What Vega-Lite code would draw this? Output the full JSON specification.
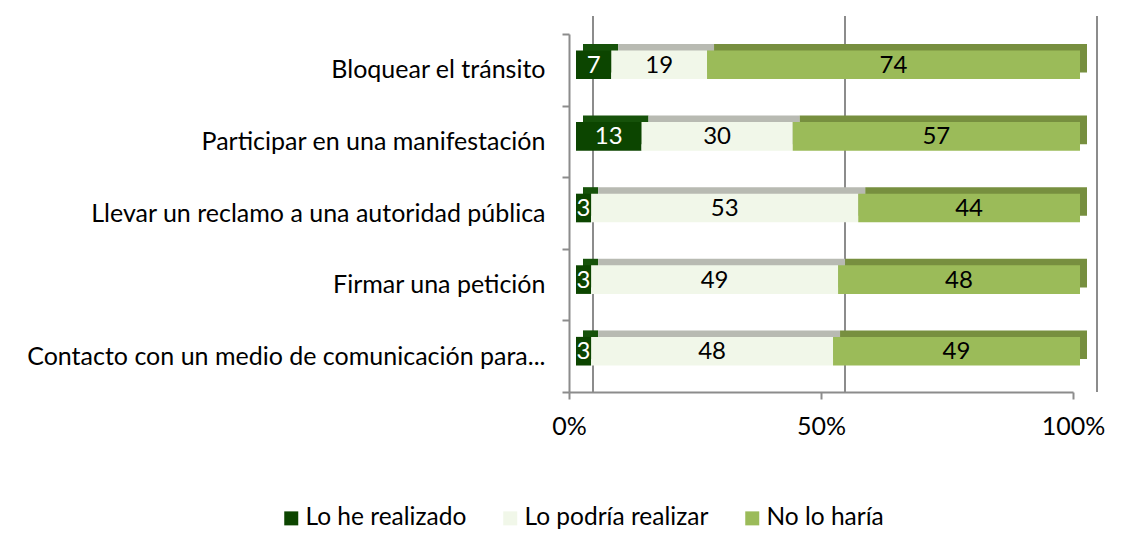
{
  "$schema": "https://vega.github.io/schema/vega-lite/v6.json",
  "width": 504,
  "height": 358,
  "autosize": {"type": "none"},
  "padding": {"left": 569, "top": 34, "right": 67, "bottom": 160},
  "background": "white",
  "config": {
    "view": {"stroke": null},
    "font": "Lato",
    "axisX": {"domainColor": "#8c8c8c", "domainWidth": 2, "tickColor": "#8c8c8c", "tickWidth": 2, "tickSize": 7, "labelFontSize": 25, "labelColor": "#000000", "labelPadding": 15, "labelFlush": false, "grid": false, "labelFont": "Lato"},
    "axisY": {"domainColor": "#8c8c8c", "domainWidth": 2, "tickColor": "#8c8c8c", "tickWidth": 2, "tickSize": 7, "labelFontSize": 25, "labelColor": "#000000", "labelPadding": 17, "grid": false, "tickBand": "extent", "labelLimit": 700, "labelFont": "Lato"}
  },
  "resolve": {"scale": {"color": "independent"}},
  "data": {
    "values": [
      {"item": "Bloquear el tránsito", "resp": "Lo he realizado", "v": 7},
      {"item": "Bloquear el tránsito", "resp": "Lo podría realizar", "v": 19},
      {"item": "Bloquear el tránsito", "resp": "No lo haría", "v": 74},
      {"item": "Participar en una manifestación", "resp": "Lo he realizado", "v": 13},
      {"item": "Participar en una manifestación", "resp": "Lo podría realizar", "v": 30},
      {"item": "Participar en una manifestación", "resp": "No lo haría", "v": 57},
      {"item": "Llevar un reclamo a una autoridad pública", "resp": "Lo he realizado", "v": 3},
      {"item": "Llevar un reclamo a una autoridad pública", "resp": "Lo podría realizar", "v": 53},
      {"item": "Llevar un reclamo a una autoridad pública", "resp": "No lo haría", "v": 44},
      {"item": "Firmar una petición", "resp": "Lo he realizado", "v": 3},
      {"item": "Firmar una petición", "resp": "Lo podría realizar", "v": 49},
      {"item": "Firmar una petición", "resp": "No lo haría", "v": 48},
      {"item": "Contacto con un medio de comunicación para...", "resp": "Lo he realizado", "v": 3},
      {"item": "Contacto con un medio de comunicación para...", "resp": "Lo podría realizar", "v": 48},
      {"item": "Contacto con un medio de comunicación para...", "resp": "No lo haría", "v": 49}
    ]
  },
  "layer": [
    {
      "data": {"values": [{"p": 0}, {"p": 50}, {"p": 100}]},
      "mark": {"type": "rule", "color": "#8c8c8c", "strokeWidth": 2, "xOffset": 24, "x2Offset": 24, "yOffset": -18, "y2Offset": -18},
      "encoding": {
        "x": {"field": "p", "type": "quantitative", "scale": {"domain": [0, 100], "nice": false}, "axis": {"values": [0, 50, 100], "labelExpr": "datum.value + '%'", "title": null}}
      }
    },
    {
      "transform": [{"stack": "v", "groupby": ["item"], "sort": [{"field": "resp", "order": "ascending"}], "as": ["x0", "x1"]}],
      "mark": {"type": "bar", "height": {"band": 0.4}, "xOffset": 14, "x2Offset": 14, "yOffset": -11.5, "y2Offset": -11.5},
      "encoding": {
        "y": {"field": "item", "type": "nominal", "sort": ["Bloquear el tránsito", "Participar en una manifestación", "Llevar un reclamo a una autoridad pública", "Firmar una petición", "Contacto con un medio de comunicación para..."], "scale": {"paddingInner": 0, "paddingOuter": 0}, "axis": {"title": null}},
        "x": {"field": "x0", "type": "quantitative", "axis": {"values": [0, 50, 100], "labelExpr": "datum.value + '%'", "title": null}},
        "x2": {"field": "x1"},
        "color": {"field": "resp", "type": "nominal", "scale": {"domain": ["Lo he realizado", "Lo podría realizar", "No lo haría"], "range": ["#16520a", "#b8bab2", "#778f3f"]}, "legend": null}
      }
    },
    {
      "transform": [{"stack": "v", "groupby": ["item"], "sort": [{"field": "resp", "order": "ascending"}], "as": ["x0", "x1"]}],
      "mark": {"type": "bar", "height": {"band": 0.4}, "xOffset": 7, "x2Offset": 7, "yOffset": -5, "y2Offset": -5},
      "encoding": {
        "y": {"field": "item", "type": "nominal", "sort": ["Bloquear el tránsito", "Participar en una manifestación", "Llevar un reclamo a una autoridad pública", "Firmar una petición", "Contacto con un medio de comunicación para..."], "axis": {"title": null}},
        "x": {"field": "x0", "type": "quantitative", "axis": {"values": [0, 50, 100], "labelExpr": "datum.value + '%'", "title": null}},
        "x2": {"field": "x1"},
        "color": {
          "field": "resp", "type": "nominal",
          "scale": {"domain": ["Lo he realizado", "Lo podría realizar", "No lo haría"], "range": ["#0c4500", "#f1f7e9", "#9bbb59"]},
          "legend": {"title": null, "orient": "none", "legendX": -290, "legendY": 472, "direction": "horizontal", "columns": 3, "symbolType": "square", "symbolSize": 196, "symbolStrokeWidth": 0, "labelFontSize": 24.5, "labelColor": "#000000", "columnPadding": 31, "labelOffset": 2, "labelFont": "Lato", "labelLimit": 400}
        }
      }
    },
    {
      "transform": [
        {"stack": "v", "groupby": ["item"], "sort": [{"field": "resp", "order": "ascending"}], "as": ["x0", "x1"]},
        {"fold": ["x0", "x1"], "as": ["k", "xv"]}
      ],
      "mark": {"type": "text", "fontSize": 24, "align": "center", "baseline": "middle", "xOffset": 7, "yOffset": -4, "font": "Lato"},
      "encoding": {
        "y": {"field": "item", "type": "nominal", "sort": ["Bloquear el tránsito", "Participar en una manifestación", "Llevar un reclamo a una autoridad pública", "Firmar una petición", "Contacto con un medio de comunicación para..."], "axis": {"title": null}},
        "x": {"aggregate": "mean", "field": "xv", "type": "quantitative", "axis": {"values": [0, 50, 100], "labelExpr": "datum.value + '%'", "title": null}},
        "text": {"field": "v", "type": "quantitative"},
        "detail": {"field": "resp", "type": "nominal"},
        "color": {"condition": {"test": "datum.resp === 'Lo he realizado'", "value": "#ffffff"}, "value": "#000000"}
      }
    }
  ]
}
